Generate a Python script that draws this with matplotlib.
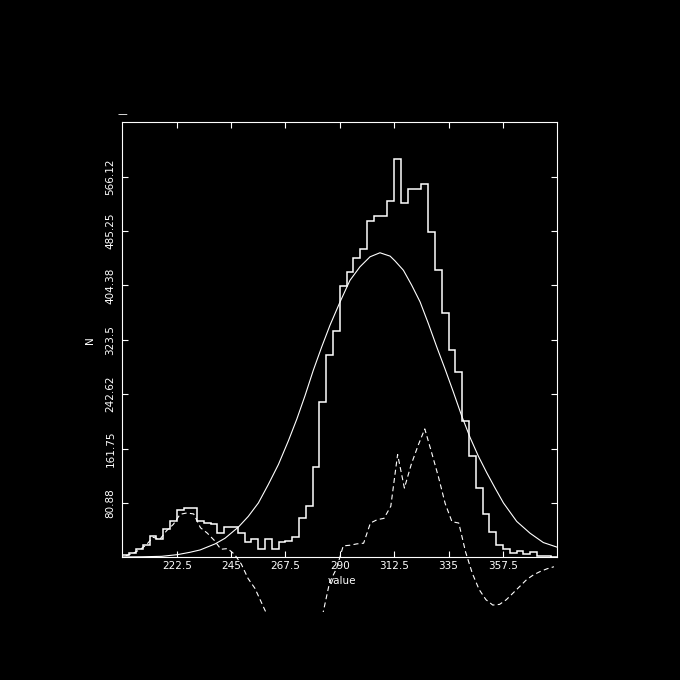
import numpy as np
import matplotlib
matplotlib.use('Agg')
import matplotlib.pyplot as plt
from matplotlib.transforms import Bbox, TransformedBbox

# histogram: 64 bins between 200 and 380
bin_lo, bin_hi = 200, 380
counts = [3, 6, 12, 19, 31, 28, 42, 54, 70, 73, 73, 54, 51, 50, 36.5, 44.5,
          44.5, 36, 23, 27, 13, 27, 12, 23, 25, 30, 58, 77, 135, 231, 301, 337,
          403, 425, 445, 459, 500, 508, 508, 530, 593, 527, 548, 548, 556, 484, 427, 364,
          309, 275, 203, 150, 103, 65, 38, 18, 12, 6.5, 9, 5, 7.5, 2, 2, 1]

# residual (dashed), one value per bin centre
resid = [2.5, 5.5, 11, 18, 30, 26.5, 39.5, 49, 64, 66, 64.5, 44, 36, 25.5, 12, 13,
         4.5, -10, -31.5, -46, -68, -90, -108, -115, -137, -160, -163, -178, -155, -84, -37, -17,
         17, 18, 20, 21, 51, 56, 58, 76, 153, 103, 138, 166, 191, 156, 120, 80,
         53, 51, 8, -24, -48, -63, -71, -70, -63, -53, -43, -33, -26, -21, -17, -14]

# fitted curve
fit_x = [200, 208, 216.3, 222.8, 228, 232.2, 238.4, 242.5, 248, 252.1, 256.3, 260.4,
         264.6, 268.7, 272.2, 275.6, 279, 282.5, 285.9, 290.1, 294.2, 298.3, 302.5,
         306.6, 310.8, 312.8, 316.3, 319.7, 323.2, 326.6, 330.1, 333.5, 337, 340.4,
         343.9, 347.3, 350.8, 354.2, 357.7, 363.2, 368.7, 374.2, 380]
fit_y = [0.5, 0.8, 1.5, 4, 7.5, 11, 20, 28.4, 44.9, 60.8, 80.9, 108.3,
         138.2, 173.2, 205.6, 240.5, 278, 313, 345, 380, 412, 432, 447,
         453, 448, 441, 427, 405, 380, 348, 313, 280.5, 245.6, 210.6,
         178.2, 150.7, 125.8, 103.3, 80.9, 53.4, 35.9, 22, 15]

x_ticks = [222.5, 245, 267.5, 290, 312.5, 335, 357.5]
x_labels = ['222.5', '245', '267.5', '290', '312.5', '335', '357.5']
y_ticks = [80.875, 161.75, 242.625, 323.5, 404.375, 485.25, 566.125]
y_labels = ['80.88', '161.75', '242.62', '323.5', '404.38', '485.25', '566.12']

edges = np.linspace(bin_lo, bin_hi, len(counts) + 1)
centres = (edges[:-1] + edges[1:]) / 2

fig = plt.figure(figsize=(6.8, 6.8), dpi=100, facecolor='black')
ax = fig.add_axes([0.1799, 0.1804, 0.6397, 0.6397], facecolor='black')

ax.stairs(counts, edges, color='white', lw=1.1)
ax.plot(fit_x, fit_y, color='white', lw=0.8)
dline, = ax.plot(centres, resid, color='white', lw=0.8, ls=(0, (4.5, 3)))
# the dashed line runs below the frame, cut off further down
dline.set_clip_box(TransformedBbox(Bbox([[bin_lo, -82], [bin_hi, 647]]), ax.transData))

ax.set_xlim(bin_lo, bin_hi)
ax.set_ylim(0, 647)
ax.set_xticks(x_ticks)
ax.set_xticklabels(x_labels)
ax.set_yticks(y_ticks)
ax.set_yticklabels(y_labels)
ax.tick_params(direction='in', length=4.3, width=0.8, colors='white', labelsize=7.5,
               top=True, right=True)
ax.tick_params(axis='x', pad=3)
ax.tick_params(axis='y', pad=5, labelrotation=90)
for lab in ax.get_yticklabels():
    lab.set_va('center')
for s in ax.spines.values():
    s.set_color('white')
    s.set_linewidth(0.8)

ax.set_xlabel('value', color='white', fontsize=7.5)
ax.xaxis.set_label_coords(0.505, -0.043)
ax.set_ylabel('N', color='white', fontsize=7.5)
ax.yaxis.set_label_coords(-0.062, 0.5)
ax.text(0, 1.019, '—', transform=ax.transAxes, color='white', fontsize=7,
        ha='center', va='center')

fig.savefig('out.png', dpi=100, facecolor='black')
